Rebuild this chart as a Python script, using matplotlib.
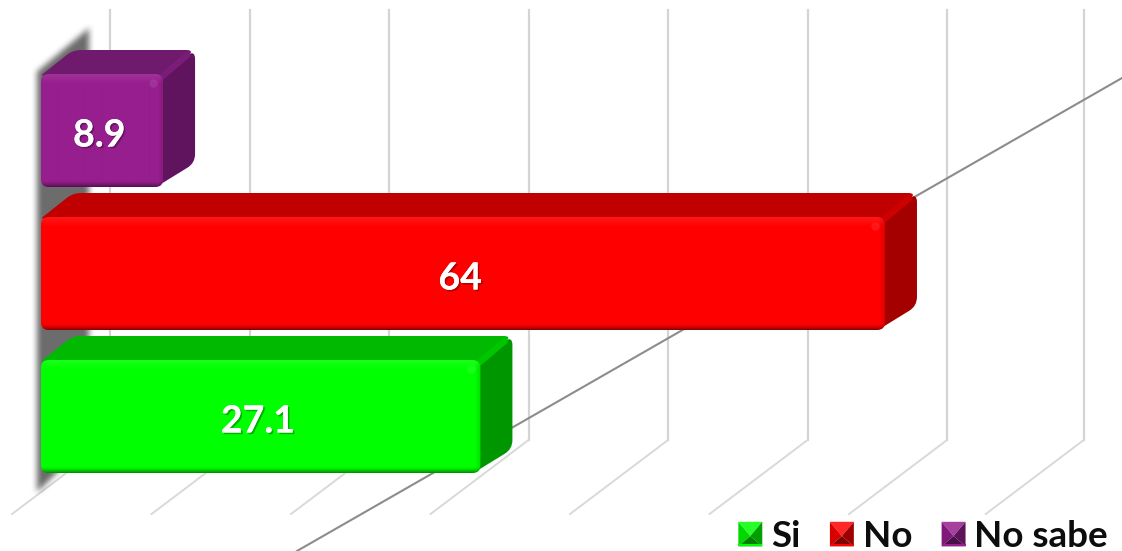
import numpy as np
import matplotlib as mpl
mpl.use("Agg")
import matplotlib.pyplot as plt
import matplotlib.patheffects as pe
from matplotlib.legend_handler import HandlerBase
from matplotlib.patches import FancyBboxPatch, PathPatch, Polygon, Patch
from matplotlib.path import Path

mpl.rcParams["font.family"] = ["Lato", "DejaVu Sans"]

# bottom to top on the chart
categories = ["Si", "No", "No sabe"]
value_labels = ["27.1", "64", "8.9"]
# bar lengths as read against the gridlines (10 units per gridline)
bar_lengths = [31.5, 60.5, 8.75]
grid_values = [4.95, 14.95, 24.95, 34.95, 44.95, 54.95, 64.95, 74.75]

front_colors = [(0, 255, 0), (255, 0, 0), (150, 30, 142)]
top_colors = [(0, 185, 0), (192, 0, 0), (112, 26, 110)]
side_colors = [(0, 150, 0), (165, 0, 0), (96, 20, 94)]
ridge_colors = [(0, 198, 0), (206, 0, 0), (122, 28, 120)]

W, H = 1122, 551
XS = 13.95   # pixels per value unit
YS = 143.0   # pixels per category
X0 = 41
Y0 = 416.5
BAR_H = 113 / YS
DX = 32 / XS
DY = 24 / YS


def rgb(c):
    return tuple(v / 255 for v in c)


def rounded(points, radii):
    # closed path with the corners cut by a curve, radii are in pixels
    pts = [np.array(p, dtype=float) for p in points]
    scale = np.array([XS, YS])
    verts, codes = [], []
    n = len(pts)
    for i in range(n):
        p, a, b = pts[i], pts[i - 1], pts[(i + 1) % n]
        r = radii[i]
        ta = min(r / np.hypot(*((a - p) * scale)), 0.5)
        tb = min(r / np.hypot(*((b - p) * scale)), 0.5)
        start, end = p + (a - p) * ta, p + (b - p) * tb
        verts += [start, p, end]
        codes += [Path.LINETO, Path.CURVE3, Path.CURVE3]
    codes[0] = Path.MOVETO
    verts.append(verts[0])
    codes.append(Path.CLOSEPOLY)
    return Path(verts, codes)


def front_shading(color, w_px, h_px):
    # vertical and horizontal bevel of the front face
    w, h = int(w_px), int(h_px)
    c = np.array(color, dtype=float) / 255
    img = np.ones((h, w, 3)) * c
    light = c + (1 - c) * 0.10
    for i in range(9):
        k = (1 - i / 9) * 0.9
        img[i, :] = img[i, :] * (1 - k) + light * k
    for i in range(6):
        k = (1 - i / 6) ** 1.5 * 0.42
        img[h - 1 - i, :] = img[h - 1 - i, :] * (1 - k)
    for j in range(5):
        k = (1 - j / 5) * 0.12
        img[:, w - 1 - j] = img[:, w - 1 - j] * (1 - k)
    return img


def wall_shadow():
    # soft grey parallelogram behind the bars, one value per pixel
    yy, xx = np.mgrid[0:H, 0:W]
    top = 70 - (xx - 38) * 42 / 50
    bottom = 490 - (xx - 38) * 48 / 50
    mask = ((xx >= 37) & (xx <= 88) & (yy >= top) & (yy <= bottom)).astype(float)
    kernel = np.ones(7) / 7
    for _ in range(2):
        mask = np.apply_along_axis(np.convolve, 1, mask, kernel, mode="same")
        mask = np.apply_along_axis(np.convolve, 0, mask, kernel, mode="same")
    img = np.zeros((H, W, 4))
    img[..., :3] = 0.42
    img[..., 3] = mask
    return img


fig = plt.figure(figsize=(W / 100, H / 100), dpi=100)
ax = fig.add_axes([0, 0, 1, 1])
xlim = (-X0 / XS, (W - X0) / XS)
ylim = ((Y0 - H) / YS, Y0 / YS)

# gridlines, wall and floor
wall_top, wall_bottom = (Y0 - 10) / YS, (Y0 - 440) / YS
floor_dx, floor_dy = 98 / XS, 74 / YS
for g in grid_values:
    ax.plot([g, g], [wall_bottom, wall_top], color="#d4d4d4", lw=1.6, zorder=1)
    ax.plot([g, g - floor_dx], [wall_bottom, wall_bottom - floor_dy],
            color="#d9d9d9", lw=1.4, zorder=1)

ax.imshow(wall_shadow(), extent=(*xlim, *ylim), aspect="auto", zorder=2, origin="upper")

# axis line running through the floor
ax.plot([(297 - X0) / XS, (1122 - X0) / XS], [(Y0 - 551) / YS, (Y0 - 78) / YS],
        color="#8c8c8c", lw=1.5, zorder=3)

# bars from back to front
for i in [2, 1, 0]:
    z = 10 + (2 - i)
    length = bar_lengths[i]
    yb, yt = i - BAR_H / 2, i + BAR_H / 2
    side = rounded([(length - 0.4, yt), (length + DX, yt + DY), (length + DX, yb + DY),
                    (length - 0.5, yb)], [0, 9, 9, 4])
    ax.add_patch(PathPatch(side, fc=rgb(side_colors[i]), ec="none", zorder=z))
    top = rounded([(0, yt - 0.01), (DX, yt + DY), (length + DX, yt + DY), (length, yt - 0.01)],
                  [2, 8, 9, 0])
    ax.add_patch(PathPatch(top, fc=rgb(top_colors[i]), ec="none", zorder=z))
    ax.plot([length - 0.1, length + DX - 0.55], [yt - 0.02, yt + DY - 0.035],
            color=rgb(ridge_colors[i]), lw=4.5, solid_capstyle="round", zorder=z)

    box = FancyBboxPatch((0, yb), length, BAR_H, boxstyle="round,pad=0,rounding_size=0.55",
                         mutation_aspect=XS / YS, fc="none", ec="none", zorder=z)
    ax.add_patch(box)
    im = ax.imshow(front_shading(front_colors[i], length * XS, BAR_H * YS),
                   extent=(0, length, yb, yt), aspect="auto", zorder=z, interpolation="bilinear")
    im.set_clip_path(box)
    # small glint near the top right corner of the front
    glint = np.array(front_colors[i]) / 255
    ax.plot(length - 0.7, yt - 0.065, "o", ms=6, mec="none", alpha=0.3,
            color=glint + (1 - glint) * 0.3, zorder=z)

    ax.text(length / 2 - 0.2, i - 0.035, value_labels[i], ha="center", va="center",
            color="white", fontsize=27, fontweight="bold", zorder=20,
            path_effects=[pe.withSimplePatchShadow(offset=(1.2, -1.2), shadow_rgbFace="black", alpha=0.3),
                          pe.Normal()])


class PyramidHandler(HandlerBase):
    def create_artists(self, legend, orig, xd, yd, width, height, fontsize, trans):
        c = np.array(mpl.colors.to_rgb(orig.get_facecolor()))
        x0, y0 = xd * -1, yd * -1
        x1, y1 = x0 + width, y0 + height
        mx, my = x0 + width * 0.5, y0 + height * 0.42
        faces = [
            ([(x0, y1), (x1, y1), (mx, my)], c + (1 - c) * 0.15),
            ([(x0, y1), (x0, y0), (mx, my)], c * 0.85),
            ([(x1, y1), (x1, y0), (mx, my)], c * 0.62),
            ([(x0, y0), (x1, y0), (mx, my)], c * 0.5),
        ]
        arts = [Polygon(v, closed=True, fc=col, ec="none", transform=trans) for v, col in faces]
        arts.append(Polygon([(x0, y0), (x1, y0), (x1, y0 + height * 0.08), (x0, y0 + height * 0.08)],
                            closed=True, fc=c, ec="none", transform=trans))
        return arts


handles = [Patch(facecolor=rgb(c), label=n) for c, n in zip(front_colors, categories)]
leg = ax.legend(handles=handles, ncols=3, loc="lower right", bbox_to_anchor=(1108 / W, -2 / H),
                frameon=False, prop={"size": 26.5, "weight": "bold"},
                handlelength=0.65, handleheight=0.65, handletextpad=0.24, columnspacing=0.8,
                borderpad=0, borderaxespad=0, labelcolor="#0d0d0d",
                handler_map={Patch: PyramidHandler()})
leg.set_zorder(30)

ax.set_xlim(*xlim)
ax.set_ylim(*ylim)
ax.axis("off")
fig.savefig("out.png", dpi=100, facecolor="white")
